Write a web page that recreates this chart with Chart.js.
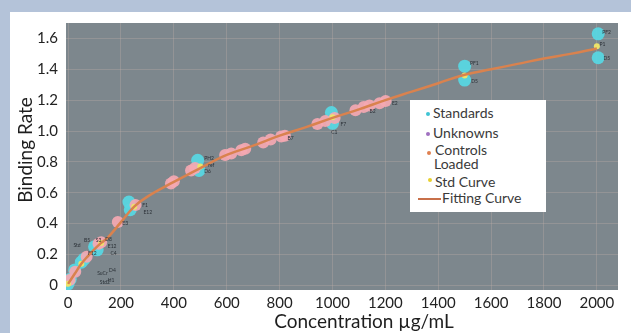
<!DOCTYPE html>
<html>
<head>
<meta charset="utf-8">
<script src="https://cdn.jsdelivr.net/npm/chart.js@4.4.0/dist/chart.umd.min.js"></script>
<style>
    body { margin: 0; background: #b4c3d9; width: 631px; height: 333px; overflow: hidden; font-family: Lato, sans-serif; }
    #panel { position: absolute; left: 10px; top: 12px; width: 621px; height: 321px; background: #fff; }
    #chart { position: absolute; left: 0; top: 0; }
    #legend { position: absolute; left: 410px; top: 100px; width: 136px; height: 112px; background: #fff; color: #3a3a3a; font-size: 14px; }
    .row { position: absolute; white-space: nowrap; line-height: 16px; }
    .dot { position: absolute; width: 4px; height: 4px; border-radius: 50%; }
    .ln { position: absolute; width: 23px; height: 2px; background: #c8704a; }
</style>
</head>
<body>
<div id="panel"></div>
<canvas id="chart" width="631" height="333"></canvas>
<div id="legend">
    <span class="dot" style="left:16px;top:12px;background:#3fc4d4"></span><span class="row" style="left:23px;top:5px">Standards</span>
    <span class="dot" style="left:16px;top:32px;background:#a070c0"></span><span class="row" style="left:23px;top:25px">Unknowns</span>
    <span class="dot" style="left:17px;top:51px;background:#e08050"></span><span class="row" style="left:25px;top:42px">Controls</span>
    <span class="row" style="left:24px;top:56px">Loaded</span>
    <span class="dot" style="left:18px;top:78px;background:#e8d030"></span><span class="row" style="left:25px;top:74px">Std Curve</span>
    <span class="ln" style="left:8px;top:98px"></span><span class="row" style="left:32px;top:90px">Fitting Curve</span>
</div>
<script>
// fitting curve
const fitX = [0, 25, 50, 75, 100, 125, 150, 200, 250, 300, 400, 500, 600, 700, 800, 900, 1000, 1100, 1200, 1300, 1400, 1500, 1600, 1700, 1800, 1900, 2000];
const fitY = [0.01, 0.075, 0.14, 0.19, 0.235, 0.275, 0.31, 0.41, 0.51, 0.575, 0.67, 0.76, 0.845, 0.905, 0.97, 1.025, 1.085, 1.14, 1.2, 1.255, 1.31, 1.365, 1.4, 1.435, 1.47, 1.5, 1.535];

// standards
const stdX = [0, 8, 25, 50, 60, 100, 110, 230, 235, 490, 495, 996, 1000, 1500, 1500, 2005, 2005];
const stdY = [0.01, 0.04, 0.1, 0.15, 0.17, 0.25, 0.23, 0.54, 0.49, 0.81, 0.745, 1.12, 1.05, 1.42, 1.33, 1.63, 1.475];

// unknowns
const unkX = [];
const unkY = [];

// controls loaded
const ctrlX = [6, 27, 70, 115, 125, 188, 255, 389, 400, 465, 480, 594, 617, 655, 670, 738, 766, 806, 820, 943, 973, 1008, 1087, 1118, 1140, 1178, 1201];
const ctrlY = [0.034, 0.088, 0.185, 0.27, 0.28, 0.41, 0.52, 0.66, 0.675, 0.745, 0.76, 0.845, 0.855, 0.875, 0.885, 0.925, 0.945, 0.965, 0.97, 1.045, 1.065, 1.085, 1.135, 1.155, 1.165, 1.18, 1.195];

// std curve
const scX = [0, 50, 125, 250, 500, 1000, 1500, 2000];
const scY = [0.01, 0.14, 0.275, 0.51, 0.77, 1.09, 1.36, 1.55];

// sample id labels
const labelX = [515, 515, 530, 280, 285, 205, 1030, 995, 1520, 1525, 2020, 2025, 830, 1225, 1140, 2010, 20, 60, 105, 140, 150, 160, 75, 110, 155, 120, 150];
const labelY = [0.82, 0.74, 0.78, 0.52, 0.47, 0.4, 1.04, 0.99, 1.44, 1.32, 1.64, 1.47, 0.95, 1.18, 1.13, 1.56, 0.26, 0.29, 0.29, 0.3, 0.25, 0.21, 0.21, 0.08, 0.1, 0.02, 0.03];
const labelText = ["PH2", "D6", "ref", "F1", "E12", "E3", "F7", "C1", "PF1", "D5", "PF2", "D5", "B7", "E2", "B2", "P1", "Std", "B5", "S3", "D8", "E12", "C4", "F12", "SuCr", "D4", "Std2", "H1"];

const xTicks = [0, 200, 400, 600, 800, 1000, 1200, 1400, 1600, 1800, 2000];
const yTicks = [0, 0.2, 0.4, 0.6, 0.8, 1.0, 1.2, 1.4, 1.6];

const pts = (xs, ys) => xs.map((x, i) => ({ x: x, y: ys[i] }));

const plotBg = {
    id: "plotBg",
    beforeDraw(chart) {
        const { ctx, chartArea: a } = chart;
        ctx.save();
        ctx.fillStyle = "#7d878d";
        ctx.fillRect(a.left, a.top, a.right - a.left, a.bottom - a.top);
        ctx.restore();
    }
};

const extras = {
    id: "extras",
    afterDraw(chart) {
        const ctx = chart.ctx;
        const xs = chart.scales.x, ys = chart.scales.y;
        ctx.save();
        // sample labels
        ctx.font = "5px Lato, sans-serif";
        ctx.fillStyle = "#2a3036";
        ctx.textBaseline = "middle";
        labelText.forEach((t, i) => {
            ctx.fillText(t, xs.getPixelForValue(labelX[i]), ys.getPixelForValue(labelY[i]));
        });
        // axis titles
        ctx.fillStyle = "#1e1e1e";
        ctx.font = "19px Lato, sans-serif";
        ctx.textAlign = "center";
        ctx.textBaseline = "middle";
        ctx.fillText("Concentration µg/mL", 364, 322);
        ctx.translate(26, 150);
        ctx.rotate(-Math.PI / 2);
        ctx.fillText("Binding Rate", 0, 0);
        ctx.restore();
    }
};

new Chart(document.getElementById("chart"), {
    type: "scatter",
    data: {
        datasets: [
            {
                label: "Fitting Curve",
                type: "line",
                data: pts(fitX, fitY),
                borderColor: "#d9824e",
                borderWidth: 2.5,
                pointRadius: 0,
                tension: 0.4,
                order: 0
            },
            {
                label: "Std Curve",
                data: pts(scX, scY),
                backgroundColor: "#ece36a",
                pointRadius: 3,
                borderWidth: 0,
                order: 1
            },
            {
                label: "Controls Loaded",
                data: pts(ctrlX, ctrlY),
                backgroundColor: "rgba(244,168,178,0.92)",
                pointRadius: 6,
                borderWidth: 0,
                order: 2
            },
            {
                label: "Unknowns",
                data: pts(unkX, unkY),
                backgroundColor: "#b88ad0",
                pointRadius: 5,
                borderWidth: 0,
                order: 3
            },
            {
                label: "Standards",
                data: pts(stdX, stdY),
                backgroundColor: "rgba(88,214,226,0.95)",
                pointRadius: 6.5,
                borderWidth: 0,
                order: 4
            }
        ]
    },
    options: {
        responsive: false,
        animation: false,
        devicePixelRatio: 1,
        layout: { padding: { left: 0, top: 23, right: 13, bottom: 0 } },
        plugins: { legend: { display: false }, tooltip: { enabled: false } },
        scales: {
            x: {
                type: "linear",
                min: -8,
                max: 2080,
                afterFit: s => { s.height = 43; },
                afterBuildTicks: s => { s.ticks = xTicks.map(v => ({ value: v })); },
                grid: { color: "rgba(200,180,172,0.3)", drawTicks: false },
                border: { display: false },
                ticks: {
                    color: "#222",
                    font: { family: "Lato", size: 15 },
                    padding: 4,
                    maxRotation: 0,
                    autoSkip: false,
                    callback: v => String(v)
                }
            },
            y: {
                min: -0.03,
                max: 1.7,
                afterFit: s => { s.width = 66; },
                afterBuildTicks: s => { s.ticks = yTicks.map(v => ({ value: v })); },
                grid: { color: "rgba(200,180,172,0.3)", drawTicks: false },
                border: { display: false },
                ticks: {
                    color: "#222",
                    font: { family: "Lato", size: 15 },
                    padding: 8,
                    autoSkip: false,
                    callback: v => v === 0 ? "0" : v.toFixed(1)
                }
            }
        }
    },
    plugins: [plotBg, extras]
});
</script>
</body>
</html>
